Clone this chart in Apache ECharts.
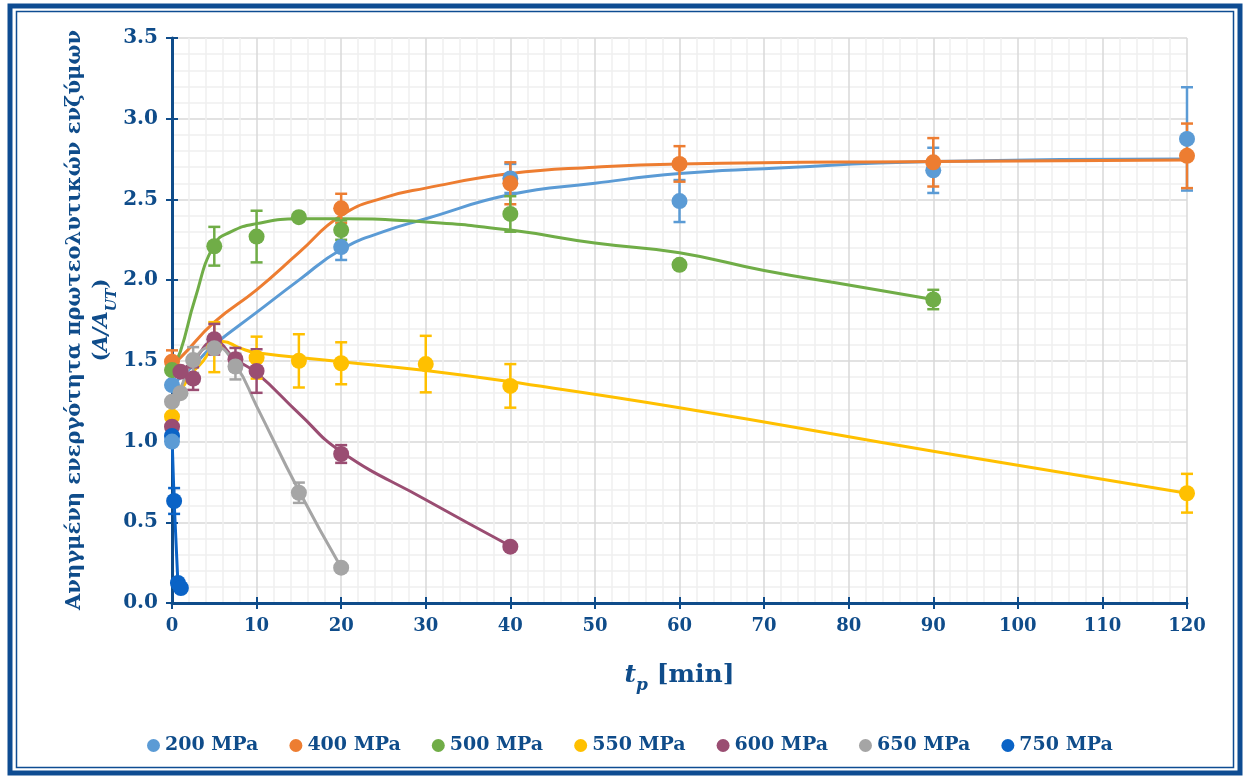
<!DOCTYPE html>
<html><head><meta charset="utf-8">
<script src="https://cdn.jsdelivr.net/npm/echarts@6/dist/echarts.min.js"></script>
<style>html,body{margin:0;padding:0;background:#fff}#c{width:1243px;height:778px}</style>
</head><body><div id="c"></div>
<script>
// ---- categories / ticks ----
const seriesNames = ['200 MPa','400 MPa','500 MPa','550 MPa','600 MPa','650 MPa','750 MPa'];
const seriesColors = ['#5B9BD5','#ED7D31','#70AD47','#FFC000','#9A4D72','#A5A5A5','#0A63C6'];
const xTicks = [0,10,20,30,40,50,60,70,80,90,100,110,120];
const yTicks = [0,0.5,1,1.5,2,2.5,3,3.5];

// ---- measured data (t, value, error) ----
const t200 = [0, 20, 40, 60, 90, 120];
const v200 = [1.35, 2.205, 2.63, 2.49, 2.68, 2.875];
const e200 = [0, 0.08, 0.09, 0.13, 0.14, 0.32];
const t200b = [0];
const v200b = [1.00];

const t400 = [0, 20, 40, 60, 90, 120];
const v400 = [1.495, 2.445, 2.60, 2.72, 2.73, 2.77];
const e400 = [0.07, 0.09, 0.13, 0.11, 0.15, 0.20];

const t500 = [0, 5, 10, 15, 20, 40, 60, 90];
const v500 = [1.443, 2.21, 2.27, 2.39, 2.31, 2.41, 2.095, 1.88];
const e500 = [0, 0.12, 0.16, 0, 0.06, 0.11, 0.02, 0.06];

const t550 = [0, 5, 10, 15, 20, 30, 40, 120];
const v550 = [1.154, 1.585, 1.52, 1.50, 1.485, 1.48, 1.345, 0.68];
const e550 = [0, 0.155, 0.13, 0.165, 0.13, 0.175, 0.135, 0.12];

const t600 = [0, 1, 2.5, 5, 7.5, 10, 20, 40];
const v600 = [1.092, 1.433, 1.39, 1.634, 1.51, 1.437, 0.923, 0.349];
const e600 = [0, 0, 0.07, 0.095, 0.07, 0.135, 0.055, 0];

const t650 = [0, 1, 2.5, 5, 7.5, 15, 20];
const v650 = [1.247, 1.30, 1.505, 1.578, 1.465, 0.683, 0.219];
const e650 = [0, 0, 0.08, 0, 0.08, 0.063, 0];

const t750 = [0, 0.25, 0.7, 1.05];
const v750 = [1.035, 0.632, 0.124, 0.093];
const e750 = [0, 0.08, 0, 0];

// ---- model curves (t, value) ----
const mt200 = [0, 2.5, 5, 10, 15, 20, 25, 30, 40, 50, 60, 70, 90, 120];
const mv200 = [1.35, 1.47, 1.60, 1.80, 2.00, 2.19, 2.30, 2.38, 2.53, 2.60, 2.66, 2.69, 2.735, 2.75];
const mt400 = [0, 1, 5, 10, 15, 20, 25, 30, 40, 50, 60, 90, 120];
const mv400 = [1.48, 1.52, 1.74, 1.94, 2.17, 2.40, 2.51, 2.57, 2.66, 2.70, 2.72, 2.735, 2.745];
const mt500 = [0, 1, 2.7, 5, 7, 10, 15, 20, 30, 40, 50, 60, 70, 80, 90];
const mv500 = [1.45, 1.56, 1.88, 2.22, 2.30, 2.35, 2.38, 2.38, 2.36, 2.31, 2.23, 2.17, 2.06, 1.97, 1.88];
const mt550 = [0, 0.3, 2, 3.7, 5, 6, 8, 10, 20, 30, 40, 60, 90, 120];
const mv550 = [1.15, 1.22, 1.40, 1.50, 1.60, 1.62, 1.58, 1.55, 1.495, 1.44, 1.37, 1.21, 0.94, 0.68];
const mt600 = [1, 2.5, 5, 7.5, 10, 15, 20, 30, 40];
const mv600 = [1.43, 1.50, 1.62, 1.51, 1.425, 1.175, 0.937, 0.64, 0.353];
const mt650 = [0, 1, 2.5, 5, 7.5, 10, 15, 20];
const mv650 = [1.25, 1.33, 1.505, 1.59, 1.475, 1.22, 0.695, 0.22];
const mt750 = [0, 0.25, 0.7, 1.05];
const mv750 = [1.035, 0.632, 0.124, 0.093];

// ---- titles ----
const yTitleLine1 = 'Ανηγμένη ενεργότητα πρωτεολυτικών ενζύμων';
const yTitleLine2 = ['(', 'A/A', 'UT', ')'];

const NAVY = '#0F4C8A';
const FONT = 'DejaVu Serif';

const measured = [
  [t200, v200, e200], [t400, v400, e400], [t500, v500, e500], [t550, v550, e550],
  [t600, v600, e600], [t650, v650, e650], [t750, v750, e750]
];
const models = [
  [mt200, mv200, true], [mt400, mv400, true], [mt500, mv500, true], [mt550, mv550, true],
  [mt600, mv600, true], [mt650, mv650, true], [mt750, mv750, false]
];

function errRenderer(color) {
  return function (params, api) {
    const x = api.value(0), lo = api.value(1), hi = api.value(2);
    const p1 = api.coord([x, hi]), p2 = api.coord([x, lo]);
    const w = 6;
    const st = { stroke: color, lineWidth: 2.5 };
    return { type: 'group', children: [
      { type: 'line', shape: { x1: p1[0], y1: p1[1], x2: p2[0], y2: p2[1] }, style: st },
      { type: 'line', shape: { x1: p1[0] - w, y1: p1[1], x2: p1[0] + w, y2: p1[1] }, style: st },
      { type: 'line', shape: { x1: p2[0] - w, y1: p2[1], x2: p2[0] + w, y2: p2[1] }, style: st }
    ]};
  };
}

const series = [];
seriesNames.forEach((name, i) => {
  const [mt, mv, sm] = models[i];
  series.push({
    name, type: 'line', data: mt.map((t, k) => [t, mv[k]]),
    smooth: sm ? 0.5 : false, showSymbol: false, symbol: 'none',
    lineStyle: { color: seriesColors[i], width: 3 }, itemStyle: { color: seriesColors[i] },
    z: 2, silent: true
  });
});
seriesNames.forEach((name, i) => {
  const [t, v, e] = measured[i];
  const eb = [];
  t.forEach((tt, k) => { if (e[k] > 0) eb.push([tt, v[k] - e[k], v[k] + e[k]]); });
  series.push({
    name, type: 'custom', renderItem: errRenderer(seriesColors[i]), data: eb,
    encode: { x: 0, y: [1, 2] }, itemStyle: { color: seriesColors[i] }, z: 3, silent: true
  });
});
seriesNames.forEach((name, i) => {
  const [t, v] = measured[i];
  series.push({
    name, type: 'scatter', data: t.map((tt, k) => [tt, v[k]]),
    symbol: 'circle', symbolSize: 16, itemStyle: { color: seriesColors[i], opacity: 1 }, z: 4
  });
});
series.push({
  name: seriesNames[0], type: 'scatter', data: t200b.map((tt, k) => [tt, v200b[k]]),
  symbol: 'circle', symbolSize: 16, itemStyle: { color: seriesColors[0], opacity: 1 }, z: 5
});

const chart = echarts.init(document.getElementById('c'));
chart.setOption({
  animation: false,
  backgroundColor: '#fff',
  grid: { left: 172, right: 56, top: 38, bottom: 175, containLabel: false },
  legend: {
    data: seriesNames.map((n, i) => ({ name: n, icon: 'circle', itemStyle: { color: seriesColors[i] } })),
    left: 142, top: 731, itemWidth: 13, itemHeight: 13, itemGap: 31,
    textStyle: { color: NAVY, fontFamily: FONT, fontWeight: 'bold', fontSize: 19 }
  },
  xAxis: [{
    type: 'value', min: 0, max: 120, interval: 10,
    axisLine: { show: true, onZero: false, lineStyle: { color: NAVY, width: 3 } },
    axisTick: { show: true, length: 6, lineStyle: { color: NAVY, width: 2 } },
    axisLabel: { color: NAVY, fontFamily: FONT, fontWeight: 'bold', fontSize: 18, margin: 14,
      formatter: v => xTicks.includes(v) ? String(v) : '' },
    splitLine: { show: true, lineStyle: { color: '#D9D9D9', width: 1.5 } },
    minorTick: { show: false, splitNumber: 5 },
    minorSplitLine: { show: true, lineStyle: { color: '#F0F0F0', width: 1.5 } },
    name: '{t|t}{p|p}{n| [min]}', nameLocation: 'middle', nameGap: 60,
    nameTextStyle: { color: NAVY, rich: {
      t: { fontFamily: FONT, fontWeight: 'bold', fontStyle: 'italic', fontSize: 25, color: NAVY },
      p: { fontFamily: FONT, fontWeight: 'bold', fontStyle: 'italic', fontSize: 17, color: NAVY, verticalAlign: 'bottom', padding: [0, 0, -6, 0] },
      n: { fontFamily: FONT, fontWeight: 'bold', fontSize: 25, color: NAVY }
    } }
  }, {
    type: 'value', min: 0, max: 120, interval: 10, position: 'bottom',
    axisLine: { show: false }, axisLabel: { show: false }, splitLine: { show: false },
    axisTick: { show: true, inside: true, length: 6, lineStyle: { color: NAVY, width: 2 } }
  }],
  yAxis: [{
    type: 'value', min: 0, max: 3.5, interval: 0.5,
    axisLine: { show: true, onZero: false, lineStyle: { color: NAVY, width: 3 } },
    axisTick: { show: true, length: 6, lineStyle: { color: NAVY, width: 2 } },
    axisLabel: { color: NAVY, fontFamily: FONT, fontWeight: 'bold', fontSize: 20, margin: 14,
      formatter: v => yTicks.some(y => Math.abs(y - v) < 1e-9) ? v.toFixed(1) : '' },
    splitLine: { show: true, lineStyle: { color: '#D9D9D9', width: 1.5 } },
    minorTick: { show: false, splitNumber: 5 },
    minorSplitLine: { show: true, lineStyle: { color: '#F0F0F0', width: 1.5 } }
  }, {
    type: 'value', min: 0, max: 3.5, interval: 0.5, position: 'left',
    axisLine: { show: false }, axisLabel: { show: false }, splitLine: { show: false },
    axisTick: { show: true, inside: true, length: 6, lineStyle: { color: NAVY, width: 2 } }
  }],
  graphic: [
    { type: 'rect', shape: { x: 10, y: 6, width: 1230, height: 767 }, style: { fill: null, stroke: '#0E4C92', lineWidth: 5 }, silent: true, z: 100 },
    { type: 'rect', shape: { x: 16.5, y: 11.5, width: 1217, height: 756 }, style: { fill: null, stroke: '#0E4C92', lineWidth: 1.5 }, silent: true, z: 100 },
    { type: 'text', x: 88, y: 320, rotation: Math.PI / 2, silent: true, z: 50,
      style: {
        text: '{g|' + yTitleLine1 + '}\n{b|' + yTitleLine2[0] + '}{a|' + yTitleLine2[1] + '}{s|' + yTitleLine2[2] + '}{b|' + yTitleLine2[3] + '}',
        align: 'center', verticalAlign: 'middle', fill: NAVY,
        rich: {
          g: { fontFamily: FONT, fontWeight: 'bold', fontSize: 21, fill: NAVY, lineHeight: 27, align: 'center' },
          b: { fontFamily: FONT, fontWeight: 'bold', fontSize: 21, fill: NAVY, lineHeight: 27 },
          a: { fontFamily: FONT, fontWeight: 'bold', fontStyle: 'italic', fontSize: 21, fill: NAVY, lineHeight: 27 },
          s: { fontFamily: FONT, fontWeight: 'bold', fontStyle: 'italic', fontSize: 14, fill: NAVY, verticalAlign: 'bottom', lineHeight: 27, padding: [0, 0, -4, 0] }
        }
      } }
  ],
  series
});
</script></body></html>
